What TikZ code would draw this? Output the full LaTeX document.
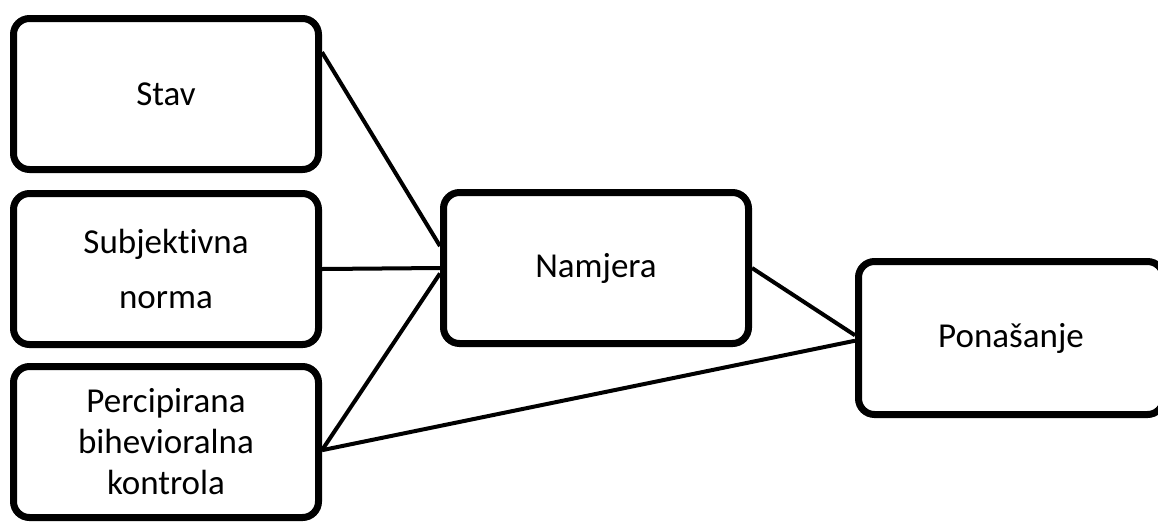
\documentclass[tikz,border=0pt]{standalone}
\usepackage{fontspec}
\setmainfont{Carlito}[Ligatures=NoCommon]
\usetikzlibrary{shadows,backgrounds}
\begin{document}
\begin{tikzpicture}[x=1pt, y=-1pt,
    blok/.style={draw, line width=7pt, rounded corners=16pt, fill=white,
      minimum width=305pt, minimum height=151pt, align=center,
      font=\fontsize{35}{41}\selectfont,
      drop shadow={shadow xshift=1pt, shadow yshift=-3pt, opacity=0.2, fill=black}},
    veza/.style={line width=4pt}]
  \useasboundingbox (0,0) rectangle (1158,523);

  % Lijevi stupac
  \node[blok] (stav) at (166,94) {Stav};
  \node[blok, font=\fontsize{35}{55}\selectfont] (norma) at (166,269) {Subjektivna\\norma};
  \node[blok] (kontrola) at (166,442) {Percipirana\\bihevioralna\\kontrola};

  % Namjera i ponasanje
  \node[blok] (namjera) at (596,268) {Namjera};
  \node[blok, minimum height=153pt] (ponasanje) at (1011,338) {Ponašanje};

  % Veze
  \begin{scope}[on background layer]
    \draw[veza] (stav.15) -- (namjera.172);
    \draw[veza] (norma.east) -- (namjera.west);
    \draw[veza] (kontrola.-3) -- (namjera.182);
    \draw[veza] (kontrola.-3) -- (ponasanje.181);
    \draw[veza] (namjera.east) -- (ponasanje.179);
  \end{scope}
\end{tikzpicture}
\end{document}
